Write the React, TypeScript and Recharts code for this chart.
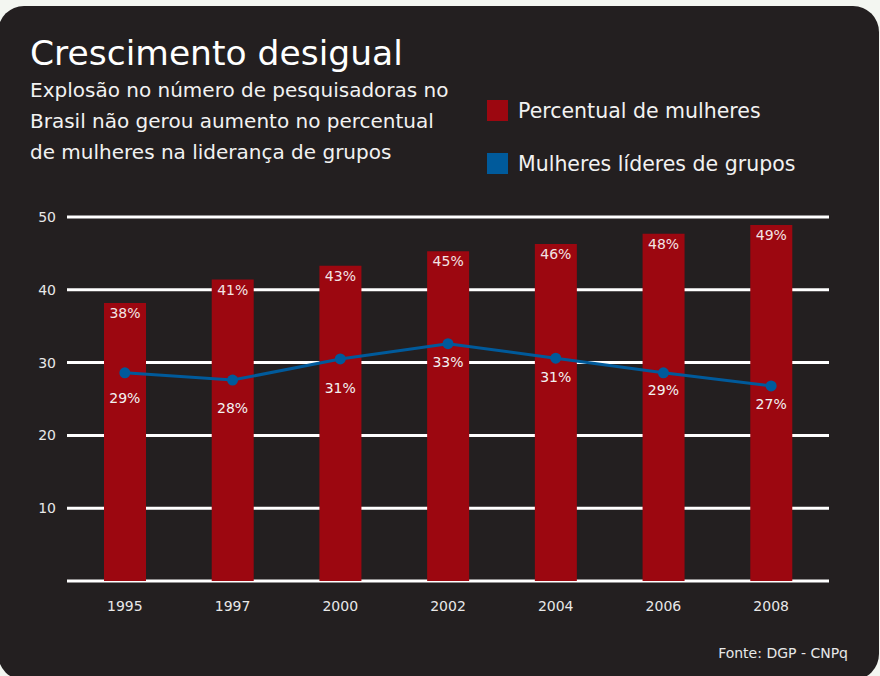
import { Bar, CartesianGrid, ComposedChart, LabelList, Legend, Line, XAxis, YAxis } from "recharts";

const years = ["1995", "1997", "2000", "2002", "2004", "2006", "2008"];
const womenShare = [38.2, 41.4, 43.3, 45.3, 46.3, 47.7, 48.9];
const leaderShare = [28.6, 27.6, 30.5, 32.6, 30.6, 28.6, 26.8];
const yTicks = [0, 10, 20, 30, 40, 50];
const seriesNames = ["Percentual de mulheres", "Mulheres líderes de grupos"];

const data = years.map((year, i) => ({ year, women: womenShare[i], leaders: leaderShare[i] }));

const RED = "#9c0710";
const BLUE = "#005a9b";
const CARD = "#231f20";
const FONT = "'DejaVu Sans', sans-serif";

// distance from the dot to the label baseline, the original nudges them off the gridlines
const leaderLabelGap = [30, 33, 34, 23, 24, 22, 23];

function LeaderLabel(props: any) {
  const { x, y, value, index } = props;
  return (
    <text x={x} y={y + leaderLabelGap[index]} textAnchor="middle" fill="#f2f2f2" fontSize={14}>
      {Math.round(value)}%
    </text>
  );
}

function LegendBox(props: any) {
  const items = [...(props.payload || [])].sort(
    (a: any, b: any) => seriesNames.indexOf(a.value) - seriesNames.indexOf(b.value)
  );
  return (
    <div>
      {items.map((item: any) => (
        <div key={item.value} style={{ display: "flex", alignItems: "center", height: 21, marginBottom: 32 }}>
          <div style={{ width: 21, height: 21, background: item.color, marginRight: 10 }} />
          <span style={{ color: "#f2f2f2", fontSize: 20.5, fontFamily: FONT, whiteSpace: "nowrap" }}>{item.value}</span>
        </div>
      ))}
    </div>
  );
}

export default function App() {
  return (
    <div
      style={{
        position: "absolute",
        left: 0,
        top: 0,
        width: 880,
        height: 676,
        overflow: "hidden",
        background: "#f3f6f1",
        fontFamily: FONT,
      }}
    >
      <div
        style={{
          position: "absolute",
          left: -2,
          top: 6,
          width: 881,
          height: 674,
          borderRadius: 26,
          background: CARD,
        }}
      />
      <div style={{ position: "absolute", left: 30, top: 35, fontSize: 34.5, lineHeight: "36px", color: "#fff" }}>
        Crescimento desigual
      </div>
      <div style={{ position: "absolute", left: 30, top: 75, fontSize: 20, lineHeight: "31px", color: "#f2f2f2" }}>
        Explosão no número de pesquisadoras no
        <br />
        Brasil não gerou aumento no percentual
        <br />
        de mulheres na liderança de grupos
      </div>
      <div
        style={{
          position: "absolute",
          right: 32,
          top: 646,
          fontSize: 14,
          lineHeight: "14px",
          color: "#e8e8e8",
        }}
      >
        Fonte: DGP - CNPq
      </div>
      <div style={{ position: "absolute", left: 0, top: 0 }}>
        <ComposedChart width={880} height={676} data={data} margin={{ top: 217, right: 51, bottom: 65, left: 7 }}>
          <CartesianGrid vertical={false} stroke="#ffffff" strokeWidth={3} />
          <XAxis
            dataKey="year"
            axisLine={false}
            tickLine={false}
            tickMargin={14}
            height={30}
            padding={{ left: 4, right: 4 }}
            tick={{ fill: "#e8e8e8", fontSize: 14 }}
          />
          <YAxis
            domain={[0, 50]}
            ticks={yTicks}
            width={60}
            axisLine={false}
            tickLine={false}
            tickMargin={5}
            tickFormatter={(v: number) => (v === 0 ? "" : String(v))}
            tick={{ fill: "#e8e8e8", fontSize: 14 }}
          />
          <Legend
            content={LegendBox}
            layout="vertical"
            align="center"
            verticalAlign="middle"
            wrapperStyle={{ top: 100, left: 487, width: 340 }}
          />
          <Bar dataKey="women" name={seriesNames[0]} fill={RED} barSize={42} isAnimationActive={false}>
            <LabelList
              dataKey="women"
              position="insideTop"
              offset={5}
              fill="#f3e4e4"
              fontSize={14}
              formatter={(v: any) => `${Math.round(Number(v))}%`}
            />
          </Bar>
          <Line
            dataKey="leaders"
            name={seriesNames[1]}
            type="linear"
            stroke={BLUE}
            strokeWidth={3}
            dot={{ r: 5.5, fill: BLUE, stroke: "none" }}
            activeDot={false}
            isAnimationActive={false}
          >
            <LabelList dataKey="leaders" content={LeaderLabel} />
          </Line>
        </ComposedChart>
      </div>
    </div>
  );
}
